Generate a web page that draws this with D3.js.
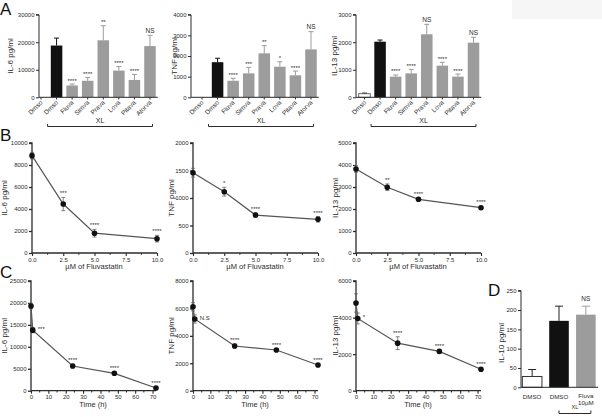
<!DOCTYPE html>
<html><head><meta charset="utf-8">
<script src="https://cdn.jsdelivr.net/npm/d3@7"></script>
<style>
body{margin:0;background:#fff;}
svg{display:block;font-family:"Liberation Sans",Arial,sans-serif;}
</style></head>
<body><svg id="c" width="602" height="417"></svg>
<script>
// ---------- DATA ----------
const aCategories = ["Dmso","Dmso","Fluva","Simva","Prava","Lova","Pitava","Atorva"];
const aIL6 = [0, 18800, 4300, 6000, 20700, 9700, 6300, 18600];
const aIL6Err = [0, 2700, 500, 1200, 5300, 1500, 2000, 3900];
const aIL6Sig = ["", "", "****", "****", "**", "****", "****", "NS"];
const aTNF = [0, 1700, 800, 1160, 2130, 1480, 1065, 2320];
const aTNFErr = [0, 190, 120, 290, 370, 240, 205, 860];
const aTNFSig = ["", "", "****", "***", "**", "*", "****", "NS"];
const aIL13 = [130, 2020, 750, 870, 2290, 1150, 750, 1985];
const aIL13Err = [25, 60, 60, 145, 360, 120, 95, 195];
const aIL13Sig = ["", "", "****", "****", "NS", "****", "****", "NS"];
const aIL6Ticks = [0, 10000, 20000, 30000];
const aTNFTicks = [0, 1000, 2000, 3000, 4000];
const aIL13Ticks = [0, 1000, 2000, 3000];

const bConc = [0, 2.5, 5, 10];
const bIL6 = [8850, 4450, 1800, 1300];
const bIL6Err = [300, 600, 350, 300];
const bIL6Sig = ["", "***", "****", "****"];
const bTNF = [1460, 1115, 690, 612];
const bTNFErr = [80, 80, 40, 50];
const bTNFSig = ["", "*", "****", "****"];
const bIL13 = [3820, 2990, 2440, 2060];
const bIL13Err = [150, 150, 60, 60];
const bIL13Sig = ["", "**", "****", "****"];
const bXTicks = [0, 2.5, 5, 7.5, 10];
const bIL6Ticks = [0, 2000, 4000, 6000, 8000, 10000];
const bTNFTicks = [0, 500, 1000, 1500, 2000];
const bIL13Ticks = [0, 1000, 2000, 3000, 4000, 5000];

const cTime = [0, 1, 24, 48, 72];
const cIL6 = [19300, 13800, 5630, 3960, 610];
const cIL6Err = [600, 600, 400, 400, 300];
const cIL6Sig = ["", "***", "****", "****", "****"];
const cTNF = [6120, 5230, 3260, 2970, 1870];
const cTNFErr = [300, 300, 150, 100, 100];
const cTNFSig = ["", "N.S", "****", "****", "****"];
const cIL13 = [4800, 3950, 2600, 2150, 1170];
const cIL13Err = [500, 300, 350, 100, 80];
const cIL13Sig = ["", "*", "****", "****", "****"];
const cXTicks = [0, 10, 20, 30, 40, 50, 60, 70];
const cIL6Ticks = [0, 5000, 10000, 15000, 20000, 25000];
const cTNFTicks = [0, 2000, 4000, 6000, 8000];
const cIL13Ticks = [0, 2000, 4000, 6000];

const dCategories = ["DMSO", "DMSO", "Fluva|10µM"];
const dIL10 = [28, 172, 188];
const dIL10Err = [18, 38, 22];
const dIL10Sig = ["", "", "NS"];
const dTicks = [0, 50, 100, 150, 200, 250];

// ---------- DRAW ----------
const svg = d3.select("#c");
const INK = "#2b2b2b";
const GRAY = "#9c9c9c";
const fmt = d => String(d);

svg.append("rect").attr("x",512).attr("y",0).attr("width",90).attr("height",19).attr("fill","#f6f6f6");

function letter(t, x, y){
  svg.append("text").attr("x",x).attr("y",y).attr("font-size",17).attr("fill","#111").text(t);
}
letter("A",0,15); letter("B",0,141); letter("C",0,278); letter("D",488,296);

function yAxis(g, y, ticks, x, width){
  const ax = d3.axisLeft(y).tickValues(ticks).tickFormat(fmt).tickSize(3).tickPadding(1.5);
  const gg = g.append("g").attr("transform",`translate(${x},0)`).call(ax);
  gg.selectAll("text").attr("font-size",6).attr("fill",INK);
  gg.selectAll("line").attr("stroke",INK).attr("stroke-width",width||1);
  gg.select(".domain").attr("stroke",INK).attr("stroke-width",width||1).attr("d",`M-3,${y.range()[1]}H0V${y.range()[0]}`);
  return gg;
}
function yTitle(t, x, y){
  svg.append("text").attr("transform",`translate(${x},${y}) rotate(-90)`).attr("text-anchor","middle")
    .attr("font-size",8).attr("fill",INK).text(t);
}

function barPanel(o){
  const g = svg.append("g");
  const step = 15.57;
  const x = d3.scaleBand().domain(d3.range(aCategories.length))
    .range([o.first - step/2, o.first - step/2 + step*aCategories.length]).paddingInner(0.26).paddingOuter(0.13);
  const y = d3.scaleLinear().domain([0, o.ticks[o.ticks.length-1]]).range([97.3, 14.7]);
  o.vals.forEach((v,i)=>{
    const fill = i===0 ? "#fff" : (i===1 ? "#111" : GRAY);
    const cx = x(i) + x.bandwidth()/2;
    if (v > 0) {
      g.append("rect").attr("x",x(i)).attr("y",y(v)).attr("width",x.bandwidth()).attr("height",y(0)-y(v))
        .attr("fill",fill).attr("stroke", i===0 ? "#444" : "none").attr("stroke-width",0.8);
    }
    const e = o.err[i];
    if (e > 0) {
      const col = i===1 ? "#111" : (i===0 ? "#444" : GRAY);
      g.append("line").attr("x1",cx).attr("x2",cx).attr("y1",y(v)).attr("y2",y(v+e)).attr("stroke",col).attr("stroke-width",1);
      g.append("line").attr("x1",cx-2.5).attr("x2",cx+2.5).attr("y1",y(v+e)).attr("y2",y(v+e)).attr("stroke",col).attr("stroke-width",1);
    }
    if (o.sig[i]) {
      const isNS = o.sig[i]==="NS";
      g.append("text").attr("x",cx).attr("y",y(v+e) - (isNS?2.5:1.5)).attr("text-anchor","middle")
        .attr("font-size", isNS?6.5:6).attr("fill",INK).text(o.sig[i]);
    }
  });
  yAxis(g, y, o.ticks, o.axisX);
  const xEnd = x.range()[1];
  g.append("line").attr("x1",o.axisX).attr("x2",xEnd).attr("y1",97.3).attr("y2",97.3).attr("stroke",INK);
  aCategories.forEach((c,i)=>{
    const cx = x(i) + x.bandwidth()/2;
    g.append("line").attr("x1",cx).attr("x2",cx).attr("y1",97.3).attr("y2",99.5).attr("stroke",INK);
    g.append("text").attr("transform",`translate(${cx+2},${103}) rotate(-45)`).attr("text-anchor","end")
      .attr("font-size",6.5).attr("fill",INK).text(c);
  });
  const bx1 = x(1) + x.bandwidth()/2 - 9, bx2 = x(7) + x.bandwidth()/2 + 2.5;
  g.append("path").attr("d",`M${bx1},124V126.5H${bx2}V124`).attr("fill","none").attr("stroke",INK).attr("stroke-width",1);
  g.append("text").attr("x",(bx1+bx2)/2).attr("y",123).attr("text-anchor","middle").attr("font-size",7).attr("fill",INK).text("XL");
  yTitle(o.title, o.titleX, 56);
}

barPanel({axisX:39, first:41, vals:aIL6, err:aIL6Err, sig:aIL6Sig, ticks:aIL6Ticks, title:"IL-6 pg/ml", titleX:13});
barPanel({axisX:191, first:202, vals:aTNF, err:aTNFErr, sig:aTNFSig, ticks:aTNFTicks, title:"TNF pg/ml", titleX:177});
barPanel({axisX:356, first:364.5, vals:aIL13, err:aIL13Err, sig:aIL13Sig, ticks:aIL13Ticks, title:"IL-13 pg/ml", titleX:337});

function linePanel(o){
  const g = svg.append("g");
  const x = d3.scaleLinear().domain(o.xDomain).range([o.axisX, o.axisX + 125]);
  const y = d3.scaleLinear().domain([0, o.ticks[o.ticks.length-1]]).range([o.y0, o.y1]);
  yAxis(g, y, o.ticks, o.axisX, 1.3);
  const xa = d3.axisBottom(x).tickValues(o.xTicks).tickFormat(o.xFmt).tickSize(3).tickPadding(1.5);
  const gx = g.append("g").attr("transform",`translate(0,${o.y0})`).call(xa);
  gx.selectAll("text").attr("font-size",6).attr("fill",INK);
  gx.selectAll("line").attr("stroke",INK).attr("stroke-width",1.1);
  gx.select(".domain").attr("stroke",INK).attr("stroke-width",1.3).attr("d",`M${x.range()[0]},0H${x.range()[1]}`);
  o.minor.forEach(m=>{
    g.append("line").attr("x1",x(m)).attr("x2",x(m)).attr("y1",o.y0).attr("y2",o.y0+1.8).attr("stroke",INK).attr("stroke-width",1);
  });
  g.append("text").attr("x",o.axisX+62).attr("y",o.y0+16).attr("text-anchor","middle").attr("font-size",7.5).attr("fill",INK).text(o.xTitle);
  const line = d3.line().x((d,i)=>x(o.xs[i])).y(d=>y(d));
  g.append("path").attr("d",line(o.vals)).attr("fill","none").attr("stroke","#555").attr("stroke-width",1.2);
  o.vals.forEach((v,i)=>{
    const cx = x(o.xs[i]), e = o.err[i];
    g.append("line").attr("x1",cx).attr("x2",cx).attr("y1",y(v-e)).attr("y2",y(v+e)).attr("stroke","#666").attr("stroke-width",0.8);
    [v-e, v+e].forEach(t=>g.append("line").attr("x1",cx-2).attr("x2",cx+2).attr("y1",y(t)).attr("y2",y(t)).attr("stroke","#666").attr("stroke-width",0.8));
    g.append("circle").attr("cx",cx).attr("cy",y(v)).attr("r",2.8).attr("fill","#111");
    const s = o.sig[i];
    if (s) {
      if (o.sideIdx === i) {
        g.append("text").attr("x",cx+5).attr("y",y(v)+1).attr("font-size",6).attr("fill",INK).text(s);
      } else {
        g.append("text").attr("x",cx).attr("y",y(v+e)-2).attr("text-anchor","middle").attr("font-size",6).attr("fill",INK).text(s);
      }
    }
  });
  yTitle(o.title, o.titleX, (o.y0+o.y1)/2);
}

const bMinor = [1.25, 3.75, 6.25, 8.75];
const bFmt = d => d.toFixed(1);
linePanel({axisX:32, xDomain:[0,10], xs:bConc, xTicks:bXTicks, xFmt:bFmt, minor:bMinor, y0:253, y1:143, vals:bIL6, err:bIL6Err, sig:bIL6Sig, ticks:bIL6Ticks, title:"IL-6 pg/ml", titleX:7, xTitle:"µM of Fluvastatin", sideIdx:-1});
linePanel({axisX:193, xDomain:[0,10], xs:bConc, xTicks:bXTicks, xFmt:bFmt, minor:bMinor, y0:253, y1:143, vals:bTNF, err:bTNFErr, sig:bTNFSig, ticks:bTNFTicks, title:"TNF pg/ml", titleX:174, xTitle:"µM of Fluvastatin", sideIdx:-1});
linePanel({axisX:356, xDomain:[0,10], xs:bConc, xTicks:bXTicks, xFmt:bFmt, minor:bMinor, y0:253, y1:143, vals:bIL13, err:bIL13Err, sig:bIL13Sig, ticks:bIL13Ticks, title:"IL-13 pg/ml", titleX:338, xTitle:"µM of Fluvastatin", sideIdx:-1});

const cMinor = [5, 15, 25, 35, 45, 55, 65];
linePanel({axisX:31, xDomain:[0,72], xs:cTime, xTicks:cXTicks, xFmt:fmt, minor:cMinor, y0:390.7, y1:281, vals:cIL6, err:cIL6Err, sig:cIL6Sig, ticks:cIL6Ticks, title:"IL-6 pg/ml", titleX:7, xTitle:"Time (h)", sideIdx:1});
linePanel({axisX:193, xDomain:[0,72], xs:cTime, xTicks:cXTicks, xFmt:fmt, minor:cMinor, y0:390.7, y1:281, vals:cTNF, err:cTNFErr, sig:cTNFSig, ticks:cTNFTicks, title:"TNF pg/ml", titleX:174, xTitle:"Time (h)", sideIdx:1});
linePanel({axisX:356, xDomain:[0,72], xs:cTime, xTicks:cXTicks, xFmt:fmt, minor:cMinor, y0:390.7, y1:281, vals:cIL13, err:cIL13Err, sig:cIL13Sig, ticks:cIL13Ticks, title:"IL-13 pg/ml", titleX:338, xTitle:"Time (h)", sideIdx:1});

// Panel D
(function(){
  const g = svg.append("g");
  const x = d3.scaleBand().domain(d3.range(dCategories.length)).range([521, 597]).paddingInner(0.27).paddingOuter(0.05);
  const y = d3.scaleLinear().domain([0, 250]).range([387.3, 290.7]);
  let centers = [];
  dIL10.forEach((v,i)=>{
    const fill = i===0 ? "#fff" : (i===1 ? "#111" : GRAY);
    const cx = x(i)+x.bandwidth()/2;
    centers.push(cx);
    const e = dIL10Err[i];
    const col = i===2 ? GRAY : "#222";
    g.append("line").attr("x1",cx).attr("x2",cx).attr("y1",y(v)).attr("y2",y(v+e)).attr("stroke",col).attr("stroke-width",1);
    g.append("line").attr("x1",cx-4).attr("x2",cx+4).attr("y1",y(v+e)).attr("y2",y(v+e)).attr("stroke",col).attr("stroke-width",1);
    g.append("rect").attr("x",x(i)).attr("y",y(v)).attr("width",x.bandwidth()).attr("height",y(0)-y(v))
      .attr("fill",fill).attr("stroke", i===0 ? "#333" : "none").attr("stroke-width",1);
    if (dIL10Sig[i]) g.append("text").attr("x",cx).attr("y",y(v+e)-5).attr("text-anchor","middle").attr("font-size",6.5).attr("fill",INK).text(dIL10Sig[i]);
    const parts = dCategories[i].split("|");
    parts.forEach((p,k)=>{
      g.append("text").attr("x",cx).attr("y",(parts.length>1?398:399)+k*6.5).attr("text-anchor","middle").attr("font-size",6.2).attr("fill",INK).text(p);
    });
  });
  yAxis(g, y, dTicks, 521);
  g.append("line").attr("x1",521).attr("x2",598).attr("y1",387.3).attr("y2",387.3).attr("stroke",INK);
  const bx1 = centers[1], bx2 = centers[2] + 5;
  g.append("path").attr("d",`M${bx1},410.5V413.5H${bx2}V410.5`).attr("fill","none").attr("stroke",INK);
  g.append("text").attr("x",(bx1+bx2)/2).attr("y",409).attr("text-anchor","middle").attr("font-size",5.5).attr("fill",INK).text("XL");
  yTitle("IL-10 pg/ml", 504, 343);
})();
</script></body></html>
